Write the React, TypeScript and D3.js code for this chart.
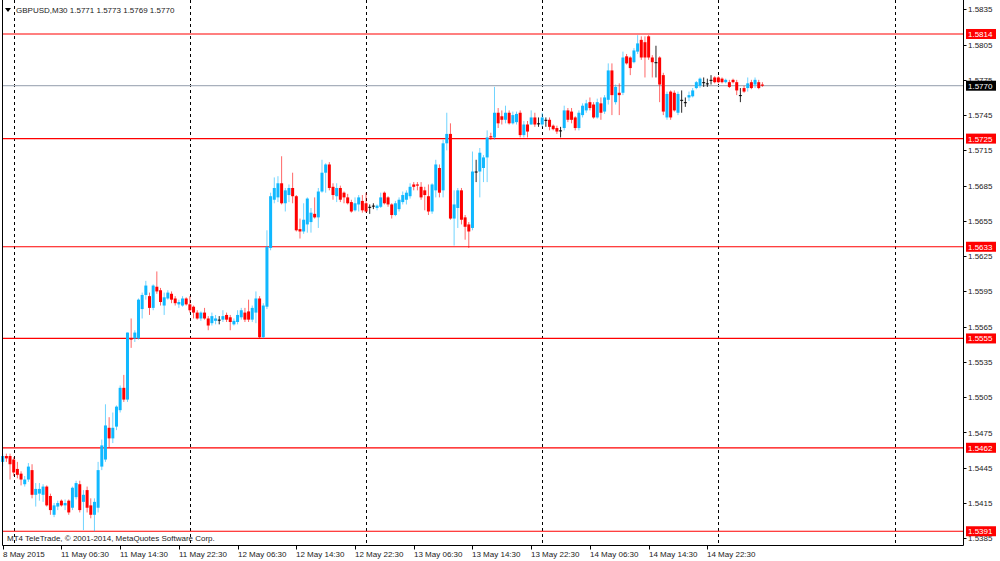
import React from 'react';
import * as d3 from 'd3';

// GBPUSD M30, bars from 8 May 2015 22:30 to 15 May 2015 06:00
const open = [
  1.5450, 1.5455, 1.5455, 1.5452, 1.5444, 1.5440, 1.5431, 1.5435, 1.5443, 1.5422,
  1.5423, 1.5422, 1.5429, 1.5421, 1.5405, 1.5412, 1.5417, 1.5413, 1.5417, 1.5411,
  1.5420, 1.5431, 1.5416, 1.5426, 1.5413, 1.5405, 1.5411, 1.5446, 1.5452, 1.5479,
  1.5470, 1.5480, 1.5494, 1.5513, 1.5503, 1.5555, 1.5555, 1.5555, 1.5580, 1.5592,
  1.5591, 1.5581, 1.5599, 1.5596, 1.5583, 1.5589, 1.5593, 1.5589, 1.5584, 1.5583,
  1.5589, 1.5584, 1.5582, 1.5577, 1.5572, 1.5577, 1.5572, 1.5568, 1.5570, 1.5571,
  1.5571, 1.5575, 1.5573, 1.5567, 1.5569, 1.5573, 1.5577, 1.5578, 1.5571, 1.5577,
  1.5589, 1.5556, 1.5582, 1.5632, 1.5673, 1.5675, 1.5687, 1.5670, 1.5677, 1.5683,
  1.5676, 1.5648, 1.5646, 1.5652, 1.5654, 1.5661, 1.5658, 1.5680, 1.5696, 1.5703,
  1.5684, 1.5676, 1.5683, 1.5679, 1.5675, 1.5671, 1.5664, 1.5669, 1.5672, 1.5670,
  1.5667, 1.5668, 1.5666, 1.5667, 1.5679, 1.5675, 1.5669, 1.5660, 1.5665, 1.5671,
  1.5673, 1.5676, 1.5686, 1.5686, 1.5684, 1.5681, 1.5676, 1.5663, 1.5681, 1.5700,
  1.5681, 1.5721, 1.5729, 1.5657, 1.5666, 1.5681, 1.5658, 1.5652, 1.5649, 1.5697,
  1.5697, 1.5700, 1.5709, 1.5727, 1.5726, 1.5747, 1.5744, 1.5741, 1.5747, 1.5738,
  1.5739, 1.5747, 1.5728, 1.5737, 1.5737, 1.5743, 1.5738, 1.5737, 1.5741, 1.5741,
  1.5736, 1.5734, 1.5732, 1.5734, 1.5749, 1.5748, 1.5743, 1.5734, 1.5745, 1.5749,
  1.5756, 1.5754, 1.5743, 1.5755, 1.5748, 1.5758, 1.5783, 1.5756, 1.5764, 1.5764,
  1.5795, 1.5794, 1.5790, 1.5799, 1.5809, 1.5807, 1.5812, 1.5794, 1.5790, 1.5794,
  1.5779, 1.5743, 1.5765, 1.5764, 1.5747, 1.5758, 1.5756, 1.5760, 1.5761, 1.5768,
  1.5770, 1.5773, 1.5772, 1.5775, 1.5777, 1.5777, 1.5776, 1.5773, 1.5773, 1.5775,
  1.5773, 1.5762, 1.5768, 1.5768, 1.5773, 1.5771, 1.5773, 1.5771,
];

const high = [
  1.5457, 1.5457, 1.5457, 1.5454, 1.5450, 1.5442, 1.5438, 1.5449, 1.5448, 1.5432,
  1.5432, 1.5431, 1.5430, 1.5423, 1.5415, 1.5417, 1.5418, 1.5418, 1.5418, 1.5429,
  1.5434, 1.5434, 1.5426, 1.5429, 1.5419, 1.5419, 1.5450, 1.5469, 1.5499, 1.5488,
  1.5492, 1.5498, 1.5515, 1.5524, 1.5560, 1.5572, 1.5562, 1.5589, 1.5594, 1.5604,
  1.5594, 1.5601, 1.5612, 1.5598, 1.5594, 1.5596, 1.5595, 1.5591, 1.5588, 1.5591,
  1.5590, 1.5591, 1.5583, 1.5579, 1.5578, 1.5581, 1.5574, 1.5577, 1.5575, 1.5574,
  1.5579, 1.5577, 1.5575, 1.5572, 1.5579, 1.5581, 1.5581, 1.5588, 1.5583, 1.5595,
  1.5591, 1.5585, 1.5647, 1.5679, 1.5692, 1.5693, 1.5710, 1.5683, 1.5686, 1.5696,
  1.5677, 1.5657, 1.5670, 1.5675, 1.5666, 1.5675, 1.5683, 1.5707, 1.5704, 1.5705,
  1.5687, 1.5687, 1.5685, 1.5680, 1.5678, 1.5673, 1.5675, 1.5677, 1.5677, 1.5679,
  1.5669, 1.5670, 1.5669, 1.5679, 1.5680, 1.5676, 1.5670, 1.5672, 1.5675, 1.5680,
  1.5681, 1.5687, 1.5688, 1.5688, 1.5688, 1.5684, 1.5686, 1.5687, 1.5707, 1.5703,
  1.5724, 1.5747, 1.5738, 1.5681, 1.5683, 1.5683, 1.5660, 1.5654, 1.5714, 1.5707,
  1.5717, 1.5711, 1.5732, 1.5730, 1.5769, 1.5751, 1.5749, 1.5753, 1.5749, 1.5748,
  1.5748, 1.5749, 1.5740, 1.5740, 1.5749, 1.5747, 1.5743, 1.5747, 1.5743, 1.5743,
  1.5737, 1.5736, 1.5735, 1.5753, 1.5751, 1.5751, 1.5744, 1.5749, 1.5755, 1.5758,
  1.5760, 1.5756, 1.5759, 1.5760, 1.5762, 1.5789, 1.5789, 1.5771, 1.5772, 1.5799,
  1.5797, 1.5795, 1.5802, 1.5813, 1.5812, 1.5812, 1.5813, 1.5796, 1.5804, 1.5795,
  1.5781, 1.5765, 1.5766, 1.5766, 1.5765, 1.5766, 1.5760, 1.5765, 1.5768, 1.5774,
  1.5777, 1.5777, 1.5776, 1.5779, 1.5778, 1.5778, 1.5777, 1.5776, 1.5775, 1.5776,
  1.5775, 1.5768, 1.5770, 1.5777, 1.5775, 1.5777, 1.5775, 1.5773,
];

const low = [
  1.5446, 1.5450, 1.5435, 1.5438, 1.5436, 1.5430, 1.5429, 1.5433, 1.5419, 1.5412,
  1.5417, 1.5416, 1.5412, 1.5405, 1.5403, 1.5409, 1.5412, 1.5409, 1.5405, 1.5409,
  1.5418, 1.5407, 1.5392, 1.5407, 1.5402, 1.5391, 1.5407, 1.5443, 1.5450, 1.5462,
  1.5466, 1.5477, 1.5492, 1.5501, 1.5501, 1.5547, 1.5552, 1.5554, 1.5572, 1.5588,
  1.5575, 1.5579, 1.5593, 1.5583, 1.5575, 1.5588, 1.5585, 1.5583, 1.5581, 1.5582,
  1.5583, 1.5577, 1.5572, 1.5571, 1.5570, 1.5571, 1.5562, 1.5566, 1.5567, 1.5567,
  1.5569, 1.5569, 1.5562, 1.5566, 1.5567, 1.5571, 1.5569, 1.5569, 1.5569, 1.5568,
  1.5555, 1.5555, 1.5580, 1.5630, 1.5670, 1.5671, 1.5669, 1.5663, 1.5671, 1.5670,
  1.5646, 1.5640, 1.5644, 1.5645, 1.5645, 1.5657, 1.5649, 1.5679, 1.5679, 1.5681,
  1.5673, 1.5671, 1.5671, 1.5670, 1.5669, 1.5662, 1.5663, 1.5663, 1.5662, 1.5662,
  1.5661, 1.5665, 1.5664, 1.5666, 1.5669, 1.5667, 1.5657, 1.5659, 1.5663, 1.5669,
  1.5669, 1.5674, 1.5681, 1.5681, 1.5673, 1.5664, 1.5660, 1.5661, 1.5675, 1.5675,
  1.5675, 1.5715, 1.5656, 1.5634, 1.5649, 1.5652, 1.5639, 1.5632, 1.5647, 1.5688,
  1.5675, 1.5688, 1.5688, 1.5724, 1.5724, 1.5734, 1.5737, 1.5738, 1.5737, 1.5737,
  1.5737, 1.5726, 1.5726, 1.5726, 1.5737, 1.5735, 1.5735, 1.5735, 1.5735, 1.5732,
  1.5732, 1.5729, 1.5726, 1.5732, 1.5739, 1.5738, 1.5732, 1.5732, 1.5743, 1.5747,
  1.5749, 1.5742, 1.5742, 1.5741, 1.5746, 1.5754, 1.5745, 1.5754, 1.5745, 1.5762,
  1.5788, 1.5779, 1.5789, 1.5797, 1.5792, 1.5777, 1.5792, 1.5777, 1.5777, 1.5756,
  1.5745, 1.5741, 1.5741, 1.5748, 1.5745, 1.5747, 1.5752, 1.5757, 1.5760, 1.5767,
  1.5768, 1.5769, 1.5769, 1.5771, 1.5772, 1.5772, 1.5772, 1.5772, 1.5768, 1.5772,
  1.5762, 1.5756, 1.5764, 1.5765, 1.5767, 1.5768, 1.5767, 1.5769,
];

const close = [
  1.5455, 1.5453, 1.5448, 1.5441, 1.5439, 1.5435, 1.5435, 1.5446, 1.5422, 1.5427,
  1.5427, 1.5429, 1.5413, 1.5409, 1.5413, 1.5415, 1.5413, 1.5415, 1.5407, 1.5428,
  1.5432, 1.5409, 1.5422, 1.5411, 1.5405, 1.5416, 1.5443, 1.5464, 1.5481, 1.5470,
  1.5479, 1.5497, 1.5513, 1.5503, 1.5560, 1.5554, 1.5560, 1.5588, 1.5592, 1.5600,
  1.5581, 1.5600, 1.5595, 1.5586, 1.5590, 1.5594, 1.5588, 1.5585, 1.5586, 1.5589,
  1.5584, 1.5579, 1.5577, 1.5572, 1.5577, 1.5572, 1.5566, 1.5574, 1.5572, 1.5571,
  1.5574, 1.5571, 1.5569, 1.5570, 1.5575, 1.5579, 1.5571, 1.5571, 1.5581, 1.5589,
  1.5556, 1.5583, 1.5633, 1.5676, 1.5683, 1.5687, 1.5670, 1.5681, 1.5683, 1.5676,
  1.5647, 1.5646, 1.5656, 1.5674, 1.5662, 1.5658, 1.5680, 1.5696, 1.5703, 1.5683,
  1.5677, 1.5683, 1.5673, 1.5675, 1.5670, 1.5663, 1.5670, 1.5675, 1.5664, 1.5663,
  1.5667, 1.5668, 1.5668, 1.5675, 1.5670, 1.5669, 1.5660, 1.5670, 1.5673, 1.5677,
  1.5679, 1.5684, 1.5684, 1.5685, 1.5675, 1.5677, 1.5663, 1.5686, 1.5703, 1.5679,
  1.5721, 1.5729, 1.5657, 1.5669, 1.5681, 1.5656, 1.5650, 1.5646, 1.5697, 1.5697,
  1.5713, 1.5709, 1.5726, 1.5726, 1.5747, 1.5738, 1.5741, 1.5747, 1.5738, 1.5745,
  1.5746, 1.5728, 1.5737, 1.5731, 1.5743, 1.5737, 1.5738, 1.5743, 1.5741, 1.5735,
  1.5733, 1.5731, 1.5732, 1.5749, 1.5741, 1.5741, 1.5734, 1.5747, 1.5753, 1.5755,
  1.5751, 1.5743, 1.5756, 1.5747, 1.5760, 1.5783, 1.5762, 1.5769, 1.5762, 1.5794,
  1.5789, 1.5785, 1.5800, 1.5806, 1.5794, 1.5794, 1.5794, 1.5790, 1.5790, 1.5771,
  1.5748, 1.5763, 1.5743, 1.5749, 1.5763, 1.5758, 1.5756, 1.5762, 1.5766, 1.5773,
  1.5776, 1.5773, 1.5772, 1.5775, 1.5773, 1.5773, 1.5773, 1.5775, 1.5769, 1.5773,
  1.5766, 1.5762, 1.5765, 1.5772, 1.5768, 1.5775, 1.5768, 1.5770,
];

const yTicks = [
  1.5835, 1.5805, 1.5775, 1.5745, 1.5715, 1.5685, 1.5655, 1.5625,
  1.5595, 1.5565, 1.5535, 1.5505, 1.5475, 1.5445, 1.5415, 1.5385,
];
const timeLabels = [
  '8 May 2015', '11 May 06:30', '11 May 14:30', '11 May 22:30', '12 May 06:30',
  '12 May 14:30', '12 May 22:30', '13 May 06:30', '13 May 14:30', '13 May 22:30',
  '14 May 06:30', '14 May 14:30', '14 May 22:30',
];
const timeLabelBars = [0, 16, 32, 48, 64, 80, 96, 112, 128, 144, 160, 176, 192];
// day separators (00:00 of each day), the last one past the data
const dayBars = [3, 51, 99, 147, 195, 243];
const levels = [1.5814, 1.5725, 1.5633, 1.5555, 1.5462, 1.5391];
const lastPrice = 1.5770;
const title = 'GBPUSD,M30  1.5771 1.5773 1.5769 1.5770';
const copyright = 'MT4 TeleTrade, \u00a9 2001-2014, MetaQuotes Software Corp.';

const style = {
  font: '"Liberation Sans", Arial, sans-serif',
  fontSize: 8,
  textColor: '#222',
  bull: '#10b8ff',
  bear: '#ff0000',
  doji: '#000000',
  levelColor: '#ff0000',
  lastColor: '#a8b0bc',
  bodyWidth: 3,
};

const plot = { left: 2.5, right: 963.5, bottom: 545.5 };

const App: React.FC = () => {
  const x = d3.scaleLinear().domain([0, 207]).range([2.7, 762.4]);
  const y = d3.scaleLinear().domain([1.5385, 1.5835]).range([538.3, 9.3]);
  const fmt = d3.format('.4f');

  const bars = close.map((c, i) => ({ i, o: open[i], h: high[i], l: low[i], c }));
  const colorOf = (b: { o: number; c: number }) =>
    b.c > b.o ? style.bull : b.c < b.o ? style.bear : style.doji;

  return (
    <div style={{ position: 'fixed', left: 0, top: 0 }}>
      <svg width={1000} height={561} style={{ display: 'block', background: '#fff' }}
        fontFamily={style.font} fontSize={style.fontSize}>
        {/* day separators */}
        {dayBars.map(d => (
          <line key={'sep' + d} x1={Math.round(x(d)) + 0.5} x2={Math.round(x(d)) + 0.5}
            y1={0} y2={plot.bottom} stroke="#000" strokeDasharray="3,3" />
        ))}

        {/* horizontal levels */}
        {levels.map(p => (
          <line key={'lv' + p} x1={plot.left} x2={plot.right} y1={y(p)} y2={y(p)}
            stroke={style.levelColor} strokeWidth={1.2} />
        ))}
        <line x1={plot.left} x2={plot.right} y1={y(lastPrice)} y2={y(lastPrice)}
          stroke={style.lastColor} strokeWidth={1.2} />

        {/* candles */}
        {bars.map(b => {
          const cx = x(b.i);
          const col = colorOf(b);
          const top = y(Math.max(b.o, b.c));
          const bot = y(Math.min(b.o, b.c));
          return (
            <g key={b.i}>
              <line x1={cx} x2={cx} y1={y(b.h)} y2={y(b.l)} stroke={col}
                strokeOpacity={col === style.doji ? 0.85 : 0.6} strokeWidth={1} />
              <rect x={cx - style.bodyWidth / 2} y={top} width={style.bodyWidth}
                height={Math.max(1, bot - top)} fill={col} />
            </g>
          );
        })}

        {/* frame */}
        <line x1={plot.left} x2={plot.left} y1={0} y2={plot.bottom} stroke="#000" />
        <line x1={plot.right} x2={plot.right} y1={0} y2={plot.bottom} stroke="#000" />
        <line x1={plot.left} x2={plot.right} y1={plot.bottom} y2={plot.bottom} stroke="#000" />

        {/* price axis */}
        {yTicks.map(t => (
          <g key={'yt' + t}>
            <line x1={plot.right} x2={plot.right + 3} y1={Math.round(y(t)) + 0.5}
              y2={Math.round(y(t)) + 0.5} stroke="#000" />
            <text x={968} y={y(t) + 3} fill={style.textColor}>{fmt(t)}</text>
          </g>
        ))}
        {levels.map(p => (
          <g key={'lb' + p}>
            <rect x={966} y={y(p) - 5} width={30} height={10} fill={style.levelColor} />
            <text x={968} y={y(p) + 3} fill="#fff">{fmt(p)}</text>
          </g>
        ))}
        <rect x={966} y={y(lastPrice) - 5} width={30} height={10} fill="#000" />
        <text x={968} y={y(lastPrice) + 3} fill="#fff">{fmt(lastPrice)}</text>

        {/* time axis */}
        {timeLabels.map((lab, k) => {
          const tx = Math.round(x(timeLabelBars[k])) + 0.5;
          return (
            <g key={lab}>
              <line x1={tx} x2={tx} y1={plot.bottom} y2={plot.bottom + 4} stroke="#000" />
              <text x={tx - 0.5} y={557} fill={style.textColor}>{lab}</text>
            </g>
          );
        })}

        {/* title & footer */}
        <path d="M5,8 L11,8 L8,12 Z" fill="#000" />
        <text x={16} y={13} fill={style.textColor}>{title}</text>
        <text x={7} y={541} fill={style.textColor}>{copyright}</text>
      </svg>
    </div>
  );
};

export default App;
